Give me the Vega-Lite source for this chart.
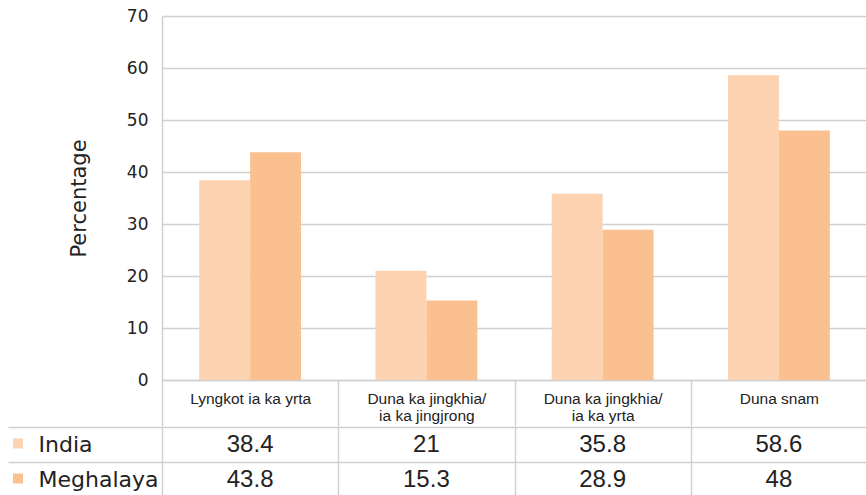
{
  "$schema": "https://vega.github.io/schema/vega-lite/v6.json",
  "padding": {"left": 7, "top": 7, "right": 0, "bottom": 0},
  "background": "white",
  "data": {"values": [
    {"category": "Lyngkot ia ka yrta", "series": "India", "value": 38.4},
    {"category": "Lyngkot ia ka yrta", "series": "Meghalaya", "value": 43.8},
    {"category": "Duna ka jingkhia/ ia ka jingjrong", "series": "India", "value": 21},
    {"category": "Duna ka jingkhia/ ia ka jingjrong", "series": "Meghalaya", "value": 15.3},
    {"category": "Duna ka jingkhia/ ia ka yrta", "series": "India", "value": 35.8},
    {"category": "Duna ka jingkhia/ ia ka yrta", "series": "Meghalaya", "value": 28.9},
    {"category": "Duna snam", "series": "India", "value": 58.6},
    {"category": "Duna snam", "series": "Meghalaya", "value": 48}
  ]},
  "config": {"view": {"stroke": null}, "font": "DejaVu Sans"},
  "spacing": -12,
  "resolve": {"scale": {"x": "shared", "color": "shared"}},
  "vconcat": [
    {
      "width": 705,
      "height": 364,
      "mark": {"type": "bar"},
      "encoding": {
        "x": {
          "field": "category", "type": "nominal", "sort": null,
          "scale": {"paddingInner": 0, "paddingOuter": 0},
          "axis": {
            "title": null, "orient": "bottom", "grid": false,
            "domain": true, "domainColor": "#d0d0d0", "domainWidth": 1.5,
            "ticks": true, "tickBand": "extent", "tickSize": 46, "tickColor": "#d0d0d0", "tickWidth": 1.5,
            "minExtent": 46, "maxExtent": 46,
            "labelPadding": -35, "labelBaseline": "top", "labelAngle": 0,
            "labelFont": "Liberation Sans", "labelFontSize": 15.5, "labelColor": "#222222",
            "labelLineHeight": 17.5, "labelLimit": 300, "labelOverlap": false,
            "labelExpr": "datum.value ? split(replace(datum.value, '/ ', '/|'), '|') : ''"
          }
        },
        "xOffset": {
          "field": "series", "type": "nominal", "sort": ["India", "Meghalaya"],
          "scale": {"paddingInner": 0, "paddingOuter": 0.73}
        },
        "y": {
          "field": "value", "type": "quantitative",
          "scale": {"domain": [0, 70]},
          "axis": {
            "title": "Percentage", "titleFont": "DejaVu Sans", "titleFontSize": 21, "titleFontWeight": "normal",
            "titleColor": "#222222", "titlePadding": 37,
            "values": [0, 10, 20, 30, 40, 50, 60, 70],
            "labelFont": "DejaVu Sans", "labelFontSize": 17, "labelColor": "#222222", "labelPadding": 14,
            "ticks": false, "domain": true, "domainColor": "#d0d0d0", "domainWidth": 1.5,
            "grid": true, "gridColor": "#d0d0d0", "gridWidth": 1.5
          }
        },
        "color": {
          "field": "series", "type": "nominal",
          "scale": {"domain": ["India", "Meghalaya"], "range": ["#FCD2B0", "#FAC08F"]},
          "legend": {
            "title": null, "orient": "none", "legendX": -149, "legendY": 422.5,
            "symbolType": "square", "symbolSize": 100, "symbolStrokeWidth": 0,
            "labelExpr": "''", "labelFontSize": 10, "rowPadding": 25, "padding": 0
          }
        }
      }
    },
    {
      "width": 705,
      "height": 70,
      "mark": {"type": "text", "font": "Liberation Sans", "fontSize": 24, "color": "#222222", "baseline": "middle"},
      "encoding": {
        "x": {
          "field": "category", "type": "nominal", "sort": null,
          "scale": {"paddingInner": 0, "paddingOuter": 0},
          "axis": {
            "title": null, "orient": "bottom", "grid": true, "gridColor": "#d0d0d0", "gridWidth": 1.5,
            "tickBand": "extent", "labels": false, "ticks": false, "domain": false,
            "minExtent": 0, "maxExtent": 0
          }
        },
        "y": {
          "field": "series", "type": "nominal", "sort": ["India", "Meghalaya"],
          "scale": {"type": "band", "paddingInner": 0, "paddingOuter": 0},
          "axis": {
            "title": null, "orient": "left", "domain": false,
            "ticks": true, "tickBand": "extent", "tickSize": 154, "tickColor": "#d0d0d0", "tickWidth": 1.5,
            "labelAlign": "left", "labelBaseline": "middle", "labelPadding": -30,
            "labelFont": "DejaVu Sans", "labelFontSize": 22, "labelColor": "#222222",
            "grid": true, "gridColor": "#d0d0d0", "gridWidth": 1.5
          }
        },
        "text": {"field": "value", "type": "nominal"}
      }
    }
  ]
}
